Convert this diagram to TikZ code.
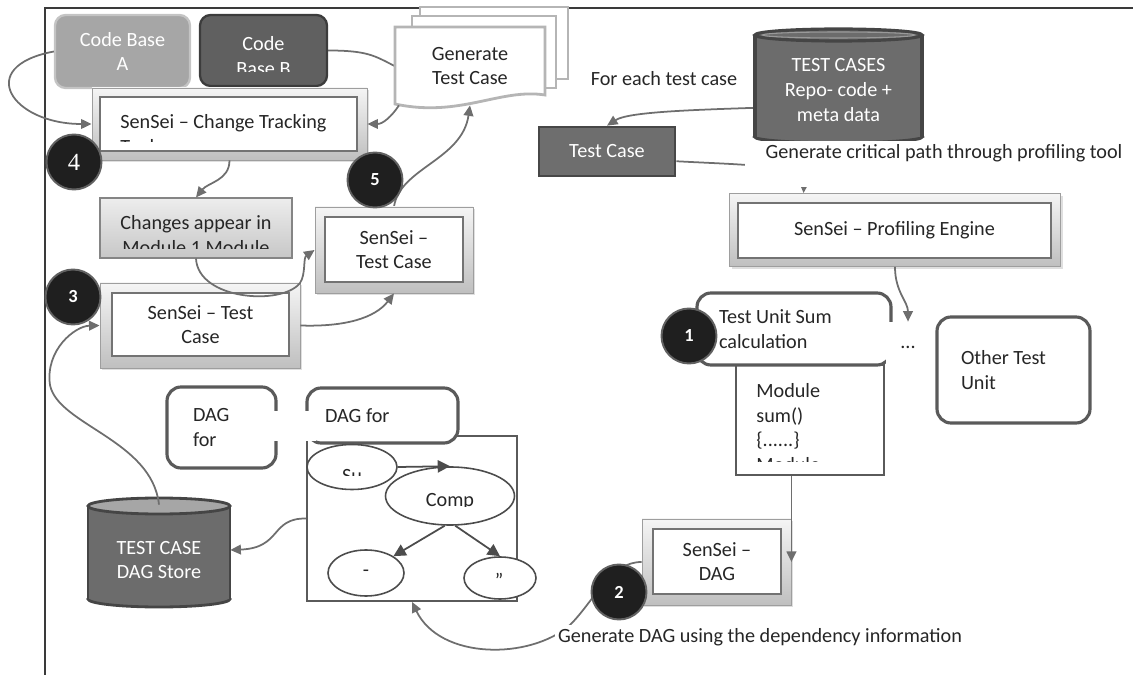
\documentclass[tikz,border=0pt]{standalone}
\usepackage{fontspec}
\setmainfont{Carlito}
\newfontfamily\digitserif{Liberation Serif}
\usetikzlibrary{arrows.meta,shapes.geometric,shadows,backgrounds}
\definecolor{txt}{HTML}{262626}
\definecolor{connc}{HTML}{6E6E6E}
\definecolor{frm}{HTML}{3A3A3A}
\definecolor{cA}{HTML}{A6A6A6}
\definecolor{cAb}{HTML}{C4C4C4}
\definecolor{cB}{HTML}{606060}
\definecolor{cBb}{HTML}{3C3C3C}
\definecolor{dk}{HTML}{6C6C6C}
\definecolor{dkb}{HTML}{454545}
\definecolor{rb}{HTML}{5A5A5A}
\definecolor{docb}{HTML}{B5B5B5}
\tikzset{
  sz/.style 2 args={minimum width=#1*0.02cm, minimum height=#2*0.02cm},
  conn/.style={draw=connc, line width=1pt, -{Triangle[length=6pt,width=5.5pt]}},
  plain/.style={draw=connc, line width=1pt},
  outerbox/.style={rectangle, draw=black!38, line width=0.5pt, top color=black!4, bottom color=black!25, inner sep=0pt, drop shadow={shadow xshift=1.2pt, shadow yshift=-1.2pt, opacity=0.25}},
  innerbox/.style={rectangle, draw=black!55, line width=0.9pt, fill=white, inner sep=0pt, text=txt, align=center},
  numcirc/.style={circle, fill=black!88, draw=black!62, line width=1.1pt, minimum size=1.1cm, inner sep=0pt, text=white, font=\fontsize{10.5}{12}\selectfont\bfseries},
  rbox/.style={rectangle, rounded corners=8pt, draw=rb, line width=1.8pt, inner sep=0pt, text=txt, align=flush left},
  tbox/.style={rectangle, draw=rb, line width=1pt, inner sep=0pt, text=txt},
  ell/.style={ellipse, draw=black!70, line width=0.9pt, fill=white, inner sep=0pt},
  darrow/.style={draw=black!70, line width=1pt, -{Triangle[length=7pt,width=7pt]}},
  lbl/.style={text=txt, inner sep=1pt},
  wlbl/.style={text=txt, fill=white, inner sep=2pt},
  cliptext/.style={text=txt, inner sep=0pt},
}
\begin{document}
\begin{tikzpicture}[x=0.02cm,y=-0.02cm,font=\fontsize{11.5}{14}\selectfont]
\useasboundingbox (0,0) rectangle (1133,675);
\draw[frm, line width=0.9pt] (45,675) -- (45,8) -- (1133,8);

% code bases
\node[rectangle, rounded corners=6pt, fill=cA, draw=cAb, line width=1.3pt, sz={135}{73}, text=white, align=center] (ca) at (122.5,51.5) {Code Base\\A};
\node[rectangle, rounded corners=6pt, fill=cB, draw=cBb, line width=1.3pt, sz={127}{71}] (cb) at (263.5,50.5) {};
\begin{scope}
\clip (200,15) rectangle (327,72);
\node[text=white, align=center, inner sep=0pt] (cbt) at (263.5,56) {Code\\Base B};
\end{scope}

% generate test case (multi document)
\path[fill=white, draw=docb, line width=1.6pt] (420,7) rectangle (568,79);
\path[fill=white, draw=docb, line width=1.6pt] (412,16) rectangle (556,88);
\path[fill=white, draw=docb, line width=1.6pt] (395,27) -- (545,27) -- (545,95) .. controls (500,88) and (460,118) .. (395,104) -- cycle;
\node[sz={150}{78}, inner sep=0pt, text=txt, align=center] (gtc) at (470,66) {Generate\\Test Case};

% change tracking
\node[outerbox, sz={275}{72}] (ct) at (229.5,124) {};
\node[innerbox, sz={257}{54}] (cti) at (228.5,124) {};
\begin{scope}
\clip (101,98) rectangle (356,142);
\node[cliptext, align=left, anchor=west] (ctt) at (120,134) {SenSei – Change Tracking\\Tool};
\end{scope}

% changes appear
\node[rectangle, draw=black!48, line width=0.6pt, top color=black!7, bottom color=black!22, sz={192}{60}] (chg) at (196,228) {};
\begin{scope}
\clip (100,198) rectangle (292,249);
\node[cliptext, align=center] (chgt) at (196,235) {Changes appear in\\Module 1 Module};
\end{scope}

% sensei test cases
\node[outerbox, sz={158}{86}] (st2) at (394,250) {};
\node[innerbox, sz={138}{65}] (st2i) at (394,249.5) {SenSei –\\Test Case};
\node[outerbox, sz={200}{85}] (st3) at (200,325.5) {};
\node[innerbox, sz={177}{63}] (st3i) at (200.5,324.5) {SenSei – Test\\Case};

% right side
\node[lbl] (fe) at (664,79) {For each test case};
\path[fill=dk, draw=dkb, line width=1.8pt] (838.5,137) ellipse [x radius=83.5, y radius=6];
\fill[dk] (755,35) rectangle (922,137);
\draw[dkb, line width=1.8pt] (755,35) -- (755,137) (922,35) -- (922,137);
\path[fill=dk, draw=dkb, line width=1.8pt] (838.5,35) ellipse [x radius=83.5, y radius=6];
\draw[black!40, line width=0.6pt] (838.5,35) ellipse [x radius=76, y radius=3];
\node[sz={167}{114}, inner sep=0pt, text=white, align=center] (tcr) at (838.5,90) {TEST CASES\\Repo- code +\\meta data};

\node[rectangle, fill=black!57, draw=black!72, line width=1.5pt, sz={136}{49}, text=white] (tc) at (607,151.5) {Test Case};

\node[outerbox, sz={331}{73}] (pe) at (895,230) {};
\node[innerbox, sz={313}{55}] (pei) at (894.5,230.5) {SenSei – Profiling Engine};
\fill[white] (745,161) rectangle (1125,187);
\node[wlbl] (gcp) at (944,153) {Generate critical path through profiling tool};

\node[tbox, sz={148}{110}, fill=white] (mod) at (810,420) {};
\begin{scope}
\clip (737,366) rectangle (883,462);
\node[cliptext, align=left, anchor=west] (modt) at (756,427.5) {Module\\sum()\\\{......\}\\Module};
\end{scope}
\node[rbox, sz={194}{72}, text width=3cm] (tu) at (794,329) {Test Unit Sum\\calculation};
\node[text=txt, fill=white, inner sep=0pt, sz={44}{50}] (dots) at (908,347) {...};
\node[rbox, sz={153}{106}, text width=2.1cm] (otu) at (1013.5,370) {Other Test\\Unit};

\node[outerbox, sz={149}{86}] (dag) at (716.5,562) {};
\node[innerbox, sz={128}{65}] (dagi) at (717,561.5) {SenSei –\\DAG};
\node[wlbl] (gdag) at (760,637) {Generate DAG using the dependency information};

% DAG graph
\node[tbox, fill=white, sz={210}{165}] (gb) at (412,518.5) {};
\node[rbox, fill=white, sz={151}{55}, text width=2.3cm] (df2) at (382.5,415.5) {DAG for};
\node[rbox, sz={109}{81}, text width=1.14cm] (df1) at (221.5,427.5) {DAG\\for};
\fill[white] (268,411) rectangle (316,441);

\node[ell, sz={90}{45}] (esu) at (352,467) {};
\begin{scope}
\clip (300,440) rectangle (400,476);
\node[cliptext, anchor=base] (esut) at (352,482) {Su};
\end{scope}
\node[ell, sz={129}{58}] (ecomp) at (450,496) {};
\begin{scope}
\clip (386,467) rectangle (515,507);
\node[cliptext, anchor=base] (ecompt) at (450,506) {Comp};
\end{scope}
\node[ell, sz={76}{46}] (ebl) at (366,573) {};
\node[cliptext] (eblt) at (366,573) {-};
\node[ell, sz={72}{42}] (ebr) at (500,578) {};
\node[cliptext] (ebrt) at (499,580) {\symbol{34}};
\draw[darrow] (esu.east) -- (ecomp.north);
\draw[darrow] (ecomp.-100) -- (ebl.north east);
\draw[darrow] (ecomp.-80) -- (ebr.north);

% DAG store cylinder
\path[fill=dk, draw=dkb, line width=1.6pt] (159,599) ellipse [x radius=71, y radius=8];
\fill[dk] (88,506) rectangle (230,599);
\draw[dkb, line width=1.6pt] (88,506) -- (88,599) (230,506) -- (230,599);
\path[fill=black!35, draw=dkb, line width=1.6pt] (159,506) ellipse [x radius=71, y radius=8];
\node[sz={142}{110}, inner sep=0pt, text=white, align=center] (ds) at (159,560) {TEST CASE\\DAG Store};

% connectors on top
\draw[conn] (ca.west) .. controls +(-80,15) and +(-80,0) .. (ct.west);
\draw[conn] (gtc.209) .. controls +(-8,12) and +(15,0) .. (ct.east);
\draw[conn] (ct.south) .. controls +(0,20) and +(12,-15) .. (chg.north);
\draw[conn] (chg.south) .. controls (198,300) and (282,306) .. (300,283) .. controls (306,274) and (303,258) .. (st2.west);
\draw[conn] (st3.east) .. controls (345,327) and (375,318) .. (st2.south);
\draw[conn] (ds.north) .. controls (152,440) and (58,425) .. (50,385) .. controls (45,350) and (75,326) .. (st3.west);
\draw[conn] (gb.west) .. controls (270,518) and (282,548) .. (ds.8);
\draw[conn] (mod.south -| dag.east) -- (dag.east);
\draw[conn] (pe.south) .. controls +(0,25) and +(0,-20) .. (dots.north);

% circles
\node[numcirc, font=\digitserif\fontsize{14}{16}\selectfont] (c4) at (74,162) {4};
\node[numcirc] (c5) at (375,180) {5};
\node[numcirc] (c3) at (73,297) {3};
\node[numcirc] (c1) at (689,336) {1};
\node[numcirc] (c2) at (619,592) {2};

% connectors behind
\begin{pgfonlayer}{background}
\draw[plain] (cb.east) .. controls +(40,0) and +(-20,-10) .. (gtc.west);
\draw[conn] (tcr.192) .. controls (690,110) and (628,112) .. (tc.north);
\draw[conn] (tc.-8) .. controls (745,165) and (805,165) .. (pe.158);
\draw[conn] (st2.north) .. controls (400,168) and (462,160) .. (gtc.south);
\draw[conn] (dag.west) .. controls (610,562) and (595,600) .. (570,625) .. controls (530,660) and (440,660) .. (gb.south);
\end{pgfonlayer}
\end{tikzpicture}
\end{document}
